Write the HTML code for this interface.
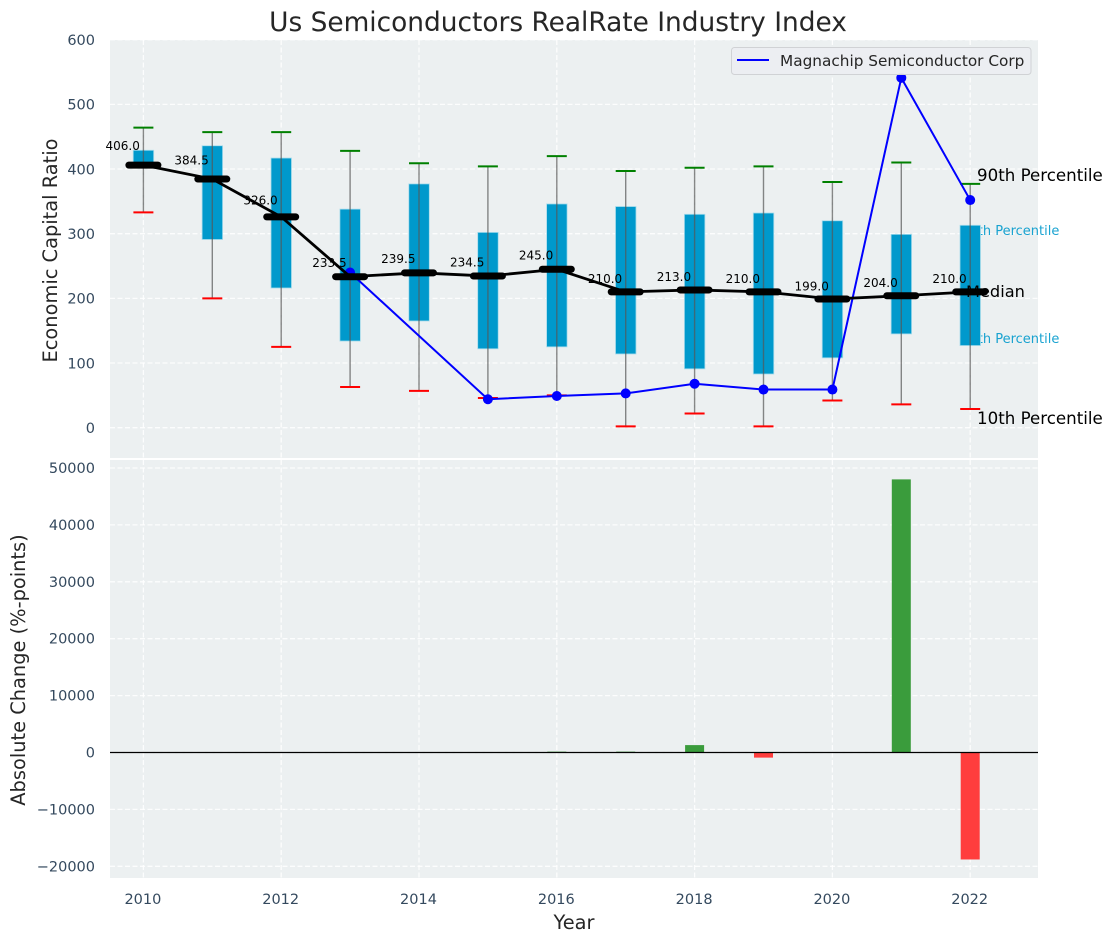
<!DOCTYPE html>
<html lang="en">
<head>
<meta charset="utf-8">
<title>Us Semiconductors RealRate Industry Index</title>
<style>
html,body{margin:0;padding:0;background:#fff;width:1112px;height:942px;overflow:hidden}
svg{display:block}
text{font-family:"DejaVu Sans","Liberation Sans",sans-serif}
</style>
</head>
<body>
<svg id="chart" xmlns="http://www.w3.org/2000/svg" width="1112" height="942" viewBox="0 0 1112 942"></svg>
<script>
const years = [2010,2011,2012,2013,2014,2015,2016,2017,2018,2019,2020,2021,2022];
const p90 = [464,457,457,428,409,404,420,397,402,404,380,410,377];
const p75 = [429,436,417,338,377,302,346,342,330,332,320,299,313];
const p25 = [403,291,216,134,165,122,125,114,91,83,108,145,127];
const p10 = [333,200,125,63,57,46,50,2,22,2,42,36,29];
const medians = [406,384.5,326,233.5,239.5,234.5,245,210,213,210,199,204,210];
const company = [null,null,null,240,null,44,49,53,68,59,59,541,352];
const changes = [0,0,0,0,0,0,150,150,1300,-900,0,48000,-18800];
const topTicks = [0,100,200,300,400,500,600];
const bottomTicks = [-20000,-10000,0,10000,20000,30000,40000,50000];
const xTicks = [2010,2012,2014,2016,2018,2020,2022];
const seriesName = "Magnachip Semiconductor Corp";

const NS = "http://www.w3.org/2000/svg";
const svg = document.getElementById("chart");
const plotLeft = 110, plotRight = 1038;
const topAxisTop = 40, topAxisBottom = 458, bottomAxisTop = 460, bottomAxisBottom = 878;
const x = yr => 143.4 + (yr - 2010) * 68.9;
const yTop = v => 427.7 - v * 0.6467;
const yBottom = v => 752.5 - v * 0.00569;

function mk(tag, attrs, parent, txt) {
  const el = document.createElementNS(NS, tag);
  for (const k in attrs) el.setAttribute(k, attrs[k]);
  if (txt !== undefined) el.textContent = txt;
  (parent || svg).appendChild(el);
  return el;
}
function group(name) {
  const g = mk("g", {});
  
  
  return g;
}
const tickColor = "#34495e";
const fmtTick = v => (v < 0 ? "\u2212" + Math.abs(v) : String(v));

// Panels
const panelTop = mk("rect", {x:plotLeft,y:topAxisTop,width:plotRight-plotLeft,height:topAxisBottom-topAxisTop,fill:"#ecf0f1"});


const panelBottom = mk("rect", {x:plotLeft,y:bottomAxisTop,width:plotRight-plotLeft,height:bottomAxisBottom-bottomAxisTop,fill:"#ecf0f1"});



// Grid
const gridG = group("grid-lines");
const gridStyle = {stroke:"#fff","stroke-width":1.3,"stroke-opacity":0.85,"stroke-dasharray":"5 2.5",fill:"none"};
xTicks.forEach(t => {
  mk("line", {x1:x(t),x2:x(t),y1:topAxisTop,y2:topAxisBottom,...gridStyle}, gridG);
  mk("line", {x1:x(t),x2:x(t),y1:bottomAxisTop,y2:bottomAxisBottom,...gridStyle}, gridG);
});
topTicks.forEach(t => mk("line", {x1:plotLeft,x2:plotRight,y1:yTop(t),y2:yTop(t),...gridStyle}, gridG));
bottomTicks.forEach(t => mk("line", {x1:plotLeft,x2:plotRight,y1:yBottom(t),y2:yBottom(t),...gridStyle}, gridG));

// Tick labels
const tickG = group("tick-labels");
topTicks.forEach(t => {
  const el = mk("text", {x:95,y:yTop(t)+5.3,"text-anchor":"end","font-size":14.5,fill:tickColor}, tickG, fmtTick(t));
  
  
});
bottomTicks.forEach(t => {
  const el = mk("text", {x:95,y:yBottom(t)+5,"text-anchor":"end","font-size":14.5,fill:tickColor}, tickG, fmtTick(t));
  
  
});
xTicks.forEach(t => {
  const el = mk("text", {x:x(t)-0.5,y:904,"text-anchor":"middle","font-size":14.5,fill:tickColor}, tickG, String(t));
  
  
});

// Titles
const title = mk("text", {x:558,y:31,"text-anchor":"middle","font-size":26.4,fill:"#262626"}, svg, "Us Semiconductors RealRate Industry Index");


const yt1 = mk("text", {transform:"translate(57,250.5) rotate(-90)","text-anchor":"middle","font-size":19.4,fill:"#262626"}, svg, "Economic Capital Ratio");


const yt2 = mk("text", {transform:"translate(25,670) rotate(-90)","text-anchor":"middle","font-size":19.4,fill:"#262626"}, svg, "Absolute Change (%-points)");


const xt = mk("text", {x:574,y:929,"text-anchor":"middle","font-size":19.4,fill:"#262626"}, svg, "Year");



// Percentile labels placed beneath the boxes
const a75 = mk("text", {x:x(2022)-9,y:235,"font-size":13,fill:"#0099cc","fill-opacity":0.9}, svg, "75th Percentile");


const a25 = mk("text", {x:x(2022)-9,y:343,"font-size":13,fill:"#0099cc","fill-opacity":0.9}, svg, "25th Percentile");



// Boxes, whiskers, caps
const boxG = group("percentile-boxes");
years.forEach((yr, i) => {
  const box = mk("rect", {x:x(yr)-10.2,y:yTop(p75[i]),width:20.5,height:yTop(p25[i])-yTop(p75[i]),fill:"#0099cc",stroke:"#a8dcec","stroke-width":0.8}, boxG);
  
  
});
const whiskG = group("whiskers");
years.forEach((yr, i) => {
  const w = mk("line", {x1:x(yr),x2:x(yr),y1:yTop(p90[i]),y2:yTop(p10[i]),stroke:"#555","stroke-width":1.4,"stroke-opacity":0.7}, whiskG);
  
  
  const hi = mk("line", {x1:x(yr)-10,x2:x(yr)+10,y1:yTop(p90[i]),y2:yTop(p90[i]),stroke:"#008000","stroke-width":2}, whiskG);
  
  
  const lo = mk("line", {x1:x(yr)-10,x2:x(yr)+10,y1:yTop(p10[i]),y2:yTop(p10[i]),stroke:"#ff0000","stroke-width":2}, whiskG);
  
  
});

// Company series
const compG = group("company-series");
const compPts = years.map((yr, i) => [yr, company[i]]).filter(p => p[1] !== null);
const compLine = mk("polyline", {points:compPts.map(p => x(p[0]) + "," + yTop(p[1])).join(" "),fill:"none",stroke:"#0000ff","stroke-width":2}, compG);


compPts.forEach(p => {
  const c = mk("circle", {cx:x(p[0]),cy:yTop(p[1]),r:5,fill:"#0000ff"}, compG);
  
  
});

// Median label beneath the median marks, then the marks
const aMed = mk("text", {x:966,y:297,"font-size":16.2,fill:"#000"}, svg, "Median");



const medG = group("median-series");
const medLine = mk("polyline", {points:years.map((yr, i) => x(yr) + "," + yTop(medians[i])).join(" "),fill:"none",stroke:"#000","stroke-width":2.8}, medG);


years.forEach((yr, i) => {
  const m = mk("line", {x1:x(yr)-14.5,x2:x(yr)+14.5,y1:yTop(medians[i]),y2:yTop(medians[i]),stroke:"#000","stroke-width":7,"stroke-linecap":"round"}, medG);
  
  
  const t = mk("text", {x:x(yr)-20.7,y:yTop(medians[i]*1.05)-2,"text-anchor":"middle","font-size":12,fill:"#000"}, medG, medians[i].toFixed(1));
  
  
});

// Outer percentile labels
const a90 = mk("text", {x:977,y:181,"font-size":16.67,fill:"#000"}, svg, "90th Percentile");


const a10 = mk("text", {x:977,y:424,"font-size":16.67,fill:"#000"}, svg, "10th Percentile");



// Bars
const barG = group("change-bars");
years.forEach((yr, i) => {
  const v = changes[i];
  if (v === 0) return;
  const y0 = yBottom(0), y1 = yBottom(v);
  const b = mk("rect", {x:x(yr)-9.5,y:Math.min(y0,y1),width:19,height:Math.abs(y1-y0),fill:v>0?"#3a9c3c":"#ff3d3d"}, barG);
  
  
});
const zero = mk("line", {x1:plotLeft,x2:plotRight,y1:yBottom(0),y2:yBottom(0),stroke:"#000","stroke-width":1.2});



// Legend
const legendG = group("legend");
mk("rect", {x:731.5,y:47.5,width:299.5,height:27,rx:3,fill:"#ecedf1","fill-opacity":0.95,stroke:"#d0d2d5","stroke-width":1}, legendG);
mk("line", {x1:737,x2:769,y1:60,y2:60,stroke:"#0000ff","stroke-width":2}, legendG);
const legendText = mk("text", {x:780,y:66,"font-size":15.3,fill:"#262626"}, legendG, seriesName);


</script>
</body>
</html>
